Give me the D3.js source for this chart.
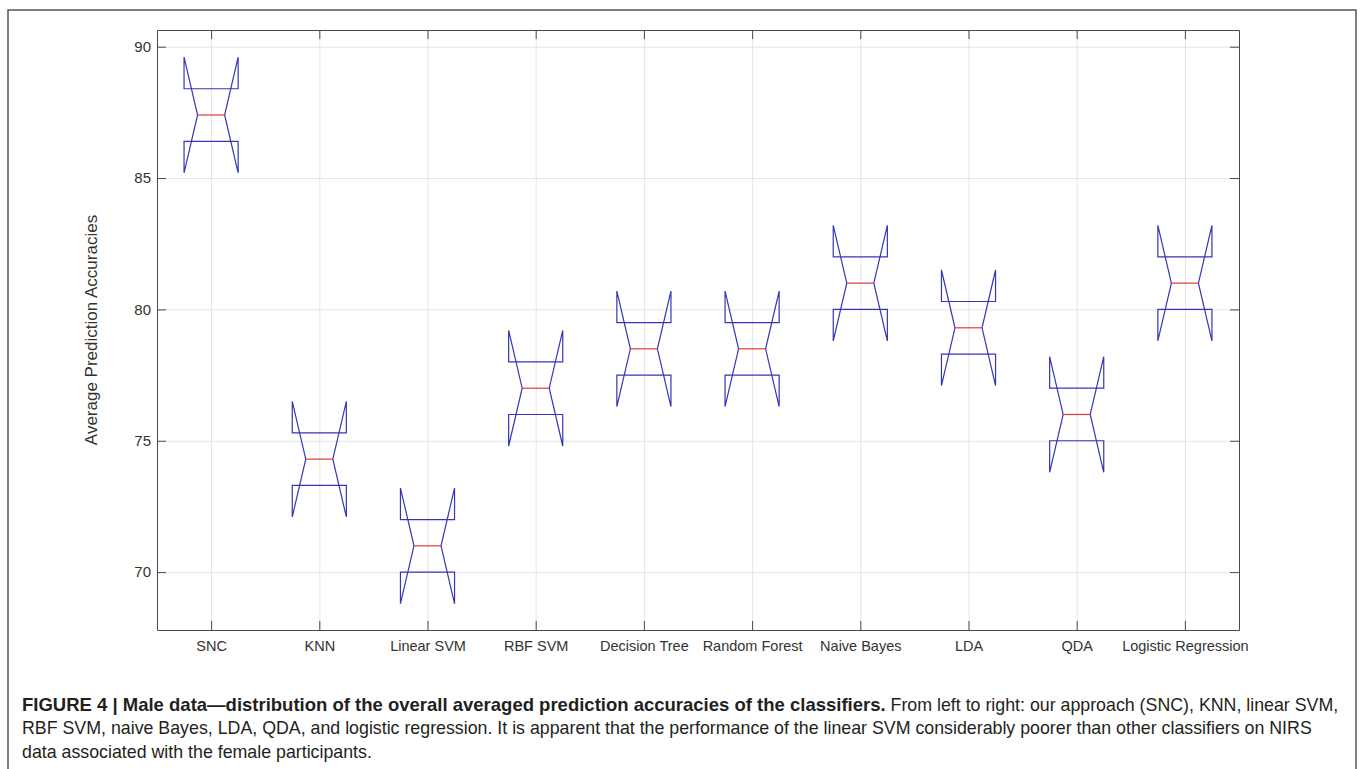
<!DOCTYPE html>
<html>
<head>
<meta charset="utf-8">
<script src="https://d3js.org/d3.v7.min.js"></script>
<style>
  body { margin: 0; background: #fff; }
  text { font-family: "Liberation Sans", Arial, Helvetica, sans-serif; }
</style>
</head>
<body>
<div id="chart"></div>
<script>
// classifier names and notched box stats
var classifiers = ["SNC", "KNN", "Linear SVM", "RBF SVM", "Decision Tree", "Random Forest",
  "Naive Bayes", "LDA", "QDA", "Logistic Regression"];
var medians  = [87.4, 74.3, 71.0, 77.0, 78.5, 78.5, 81.0, 79.3, 76.0, 81.0];
var q1Values = [86.4, 73.3, 70.0, 76.0, 77.5, 77.5, 80.0, 78.3, 75.0, 80.0];
var q3Values = [88.4, 75.3, 72.0, 78.0, 79.5, 79.5, 82.0, 80.3, 77.0, 82.0];
var notchLow  = [85.2, 72.1, 68.8, 74.8, 76.3, 76.3, 78.8, 77.1, 73.8, 78.8];
var notchHigh = [89.6, 76.5, 73.2, 79.2, 80.7, 80.7, 83.2, 81.5, 78.2, 83.2];
var yTicks = [70, 75, 80, 85, 90];

var svgWidth = 1360;
var svgHeight = 769;

var margin = { top: 30, right: 121, bottom: 139, left: 157 };
var width = svgWidth - margin.left - margin.right;
var height = svgHeight - margin.top - margin.bottom;

var svg = d3.select("#chart")
  .append("svg")
  .attr("width", svgWidth)
  .attr("height", svgHeight);

// figure frame (open at the bottom)
svg.append("path")
  .attr("d", "M8,769V10H1356V769")
  .attr("fill", "none")
  .attr("stroke", "#555")
  .attr("stroke-width", 1.5);

var chartGroup = svg.append("g")
  .attr("transform", `translate(${margin.left}, ${margin.top})`);

var boxes = classifiers.map(function(name, i) {
  return { name: name, pos: i + 1, med: medians[i], q1: q1Values[i], q3: q3Values[i],
    lo: notchLow[i], hi: notchHigh[i] };
});

// scales
var xScale = d3.scaleLinear().domain([0.5, 10.5]).range([0, width]);
var yScale = d3.scaleLinear().domain([67.796, 90.636]).range([height, 0]);

// grid
chartGroup.append("g")
  .attr("class", "grid")
  .attr("transform", `translate(0, ${height})`)
  .call(d3.axisBottom(xScale).tickValues(d3.range(1, 11)).tickSize(-height).tickFormat(""))
  .call(g => g.select(".domain").remove())
  .call(g => g.selectAll("line").attr("stroke", "#e4e4e4"));

chartGroup.append("g")
  .attr("class", "grid")
  .call(d3.axisLeft(yScale).tickValues(yTicks).tickSize(-width).tickFormat(""))
  .call(g => g.select(".domain").remove())
  .call(g => g.selectAll("line").attr("stroke", "#e4e4e4"));

// axes (ticks point inward on all four sides)
var axisColor = "#4a4a4a";
var bottomAxis = d3.axisBottom(xScale)
  .tickValues(d3.range(1, 11))
  .tickFormat(d => classifiers[d - 1])
  .tickSizeInner(-9).tickSizeOuter(0).tickPadding(11);
var leftAxis = d3.axisLeft(yScale)
  .tickValues(yTicks)
  .tickSizeInner(-9).tickSizeOuter(0).tickPadding(6);

chartGroup.append("g")
  .attr("class", "x-axis")
  .attr("transform", `translate(0, ${height})`)
  .call(bottomAxis);
chartGroup.append("g")
  .attr("class", "y-axis")
  .call(leftAxis);
chartGroup.append("g")
  .call(d3.axisTop(xScale).tickValues(d3.range(1, 11)).tickFormat("").tickSizeInner(-9).tickSizeOuter(0));
chartGroup.append("g")
  .attr("transform", `translate(${width}, 0)`)
  .call(d3.axisRight(yScale).tickValues(yTicks).tickFormat("").tickSizeInner(-9).tickSizeOuter(0));

chartGroup.selectAll(".domain, .tick line")
  .filter(function() { return this.parentNode.parentNode.getAttribute("class") !== "grid"; })
  .attr("stroke", axisColor);
chartGroup.selectAll(".tick text")
  .attr("fill", "#333")
  .attr("font-family", "'Liberation Sans', Arial, sans-serif");
chartGroup.selectAll(".x-axis .tick text").attr("font-size", "14.5px");
chartGroup.selectAll(".y-axis .tick text").attr("font-size", "15px");

// notched boxes
var half = 0.25;
var inset = 0.125;
var boxGroup = chartGroup.selectAll(".box").data(boxes).enter()
  .append("g")
  .attr("class", "box");

boxGroup.append("path")
  .attr("d", function(d) {
    var l = xScale(d.pos - half), r = xScale(d.pos + half);
    var li = xScale(d.pos - half + inset), ri = xScale(d.pos + half - inset);
    var pts = [[l, yScale(d.q1)], [l, yScale(d.lo)], [li, yScale(d.med)], [l, yScale(d.hi)],
      [l, yScale(d.q3)], [r, yScale(d.q3)], [r, yScale(d.hi)], [ri, yScale(d.med)],
      [r, yScale(d.lo)], [r, yScale(d.q1)]];
    return d3.line()(pts) + "Z";
  })
  .attr("fill", "none")
  .attr("stroke", "#3535b8")
  .attr("stroke-width", 1.2);

boxGroup.append("line")
  .attr("x1", d => xScale(d.pos - half + inset))
  .attr("x2", d => xScale(d.pos + half - inset))
  .attr("y1", d => yScale(d.med))
  .attr("y2", d => yScale(d.med))
  .attr("stroke", "#e03a3a")
  .attr("stroke-width", 1.2);

// y label
chartGroup.append("text")
  .attr("transform", `translate(${-60}, ${height / 2}) rotate(-90)`)
  .attr("text-anchor", "middle")
  .attr("fill", "#333")
  .attr("font-size", "17px")
  .text("Average Prediction Accuracies");

// caption
var caption = svg.append("text")
  .attr("fill", "#231f20")
  .attr("font-size", "17.8px");

var line1 = caption.append("tspan").attr("x", 22).attr("y", 710.5);
line1.append("tspan")
  .attr("font-weight", "bold")
  .attr("font-size", "18.5px")
  .text("FIGURE 4 | Male data\u2014distribution of the overall averaged prediction accuracies of the classifiers.");
line1.append("tspan")
  .text(" From left to right: our approach (SNC), KNN, linear SVM,");

caption.append("tspan").attr("x", 22).attr("y", 734)
  .text("RBF SVM, naive Bayes, LDA, QDA, and logistic regression. It is apparent that the performance of the linear SVM considerably poorer than other classifiers on NIRS");
caption.append("tspan").attr("x", 22).attr("y", 757.5)
  .text("data associated with the female participants.");
</script>
</body>
</html>
